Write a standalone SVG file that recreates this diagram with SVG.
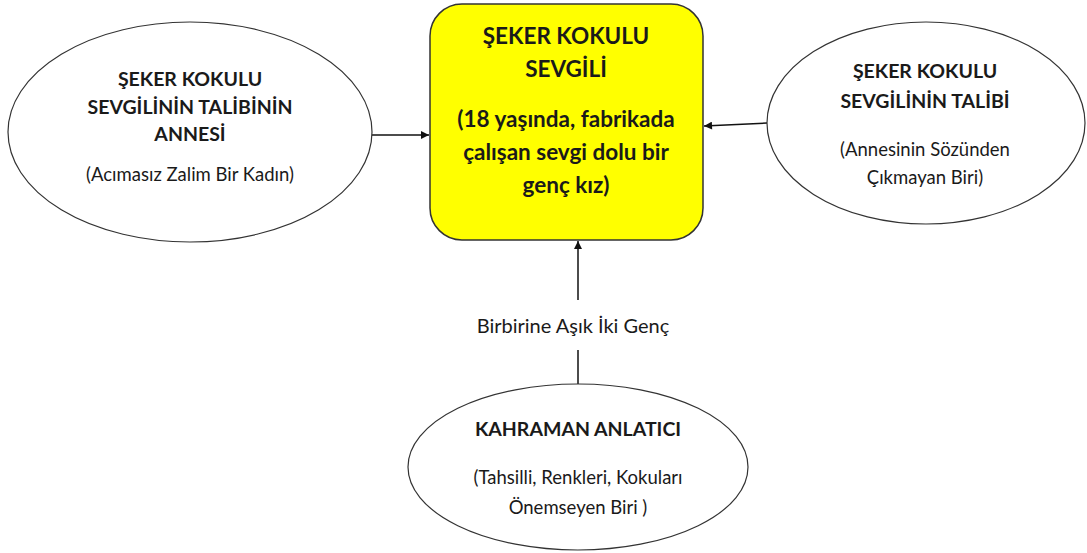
<svg xmlns="http://www.w3.org/2000/svg" width="1087" height="553" viewBox="0 0 1087 553">
<style>
.shape{fill:#fff;stroke:#333;stroke-width:1.2}
.box{fill:#ffff00;stroke:#333;stroke-width:1.5}
.t{font-family:Lato,"Open Sans","Liberation Sans",sans-serif;fill:#1a1a1a;text-anchor:middle}
.b{font-weight:bold;font-size:19.5px}
.bb{font-weight:bold;font-size:22.5px}
.n{font-size:18.5px}
.l{font-size:20px}
.c{stroke:#111;stroke-width:1.5;fill:none}
</style>
<defs>
<marker id="ah" viewBox="0 0 10 10" refX="10" refY="5" markerWidth="9" markerHeight="8" markerUnits="userSpaceOnUse" orient="auto">
<path d="M0,0 L10,5 L0,10 Z" fill="#111"/>
</marker>
</defs>
<g id="connectors">
<line class="c" x1="372" y1="135" x2="429" y2="135" marker-end="url(#ah)"/>
<line class="c" x1="767" y1="123" x2="704" y2="126" marker-end="url(#ah)"/>
<line class="c" x1="578" y1="300" x2="578" y2="241" marker-end="url(#ah)"/>
<line class="c" x1="578" y1="350" x2="578" y2="385"/>
<text class="t l" x="573" y="333">Birbirine Aşık İki Genç</text>
</g>
<g id="center">
<rect class="box" x="430" y="4" width="273" height="236" rx="32"/>
<text class="t bb" x="566" y="44">ŞEKER KOKULU</text>
<text class="t bb" x="566" y="77">SEVGİLİ</text>
<text class="t bb" x="566" y="127">(18 yaşında, fabrikada</text>
<text class="t bb" x="566" y="160">çalışan sevgi dolu bir</text>
<text class="t bb" x="566" y="193">genç kız)</text>
</g>
<g id="left">
<ellipse class="shape" cx="190" cy="132" rx="182" ry="110"/>
<text class="t b" x="190" y="86">ŞEKER KOKULU</text>
<text class="t b" x="190" y="114">SEVGİLİNİN TALİBİNİN</text>
<text class="t b" x="190" y="141">ANNESİ</text>
<text class="t n" x="190" y="181">(Acımasız Zalim Bir Kadın)</text>
</g>
<g id="right">
<ellipse class="shape" cx="926" cy="123" rx="159" ry="101"/>
<text class="t b" x="925" y="78">ŞEKER KOKULU</text>
<text class="t b" x="925" y="108">SEVGİLİNİN TALİBİ</text>
<text class="t n" x="925" y="156">(Annesinin Sözünden</text>
<text class="t n" x="925" y="184">Çıkmayan Biri)</text>
</g>
<g id="bottom">
<ellipse class="shape" cx="578" cy="467" rx="170" ry="83"/>
<text class="t b" x="578" y="436">KAHRAMAN ANLATICI</text>
<text class="t n" x="578" y="484">(Tahsilli, Renkleri, Kokuları</text>
<text class="t n" x="578" y="514">Önemseyen Biri )</text>
</g>
</svg>
